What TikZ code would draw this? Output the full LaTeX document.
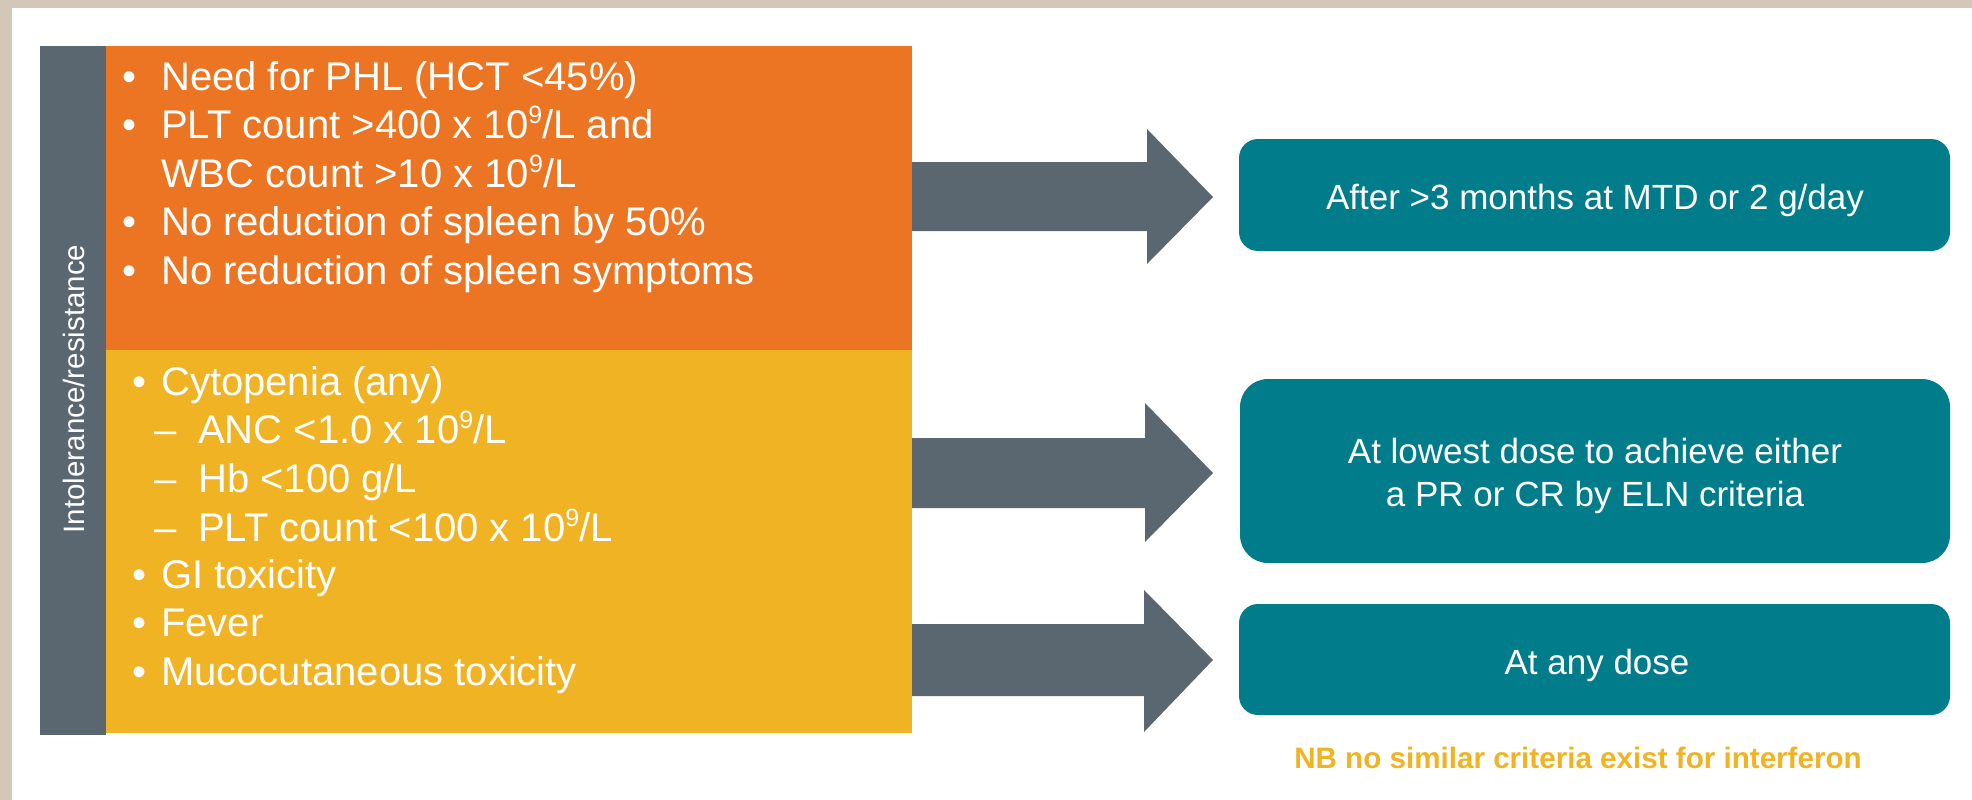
\documentclass[tikz,border=0pt]{standalone}
\usepackage{fontspec}
\setmainfont{Liberation Sans}
\definecolor{frame}{HTML}{D3C7B8}
\definecolor{orng}{HTML}{EC7524}
\definecolor{yel}{HTML}{F0B323}
\definecolor{slate}{HTML}{5B6770}
\definecolor{tealbox}{HTML}{007C8A}
\newcommand{\tenexp}{10\raisebox{0.36em}{\fontsize{25}{25}\selectfont 9}}
\tikzset{
  listline/.style={anchor=base west, inner sep=0pt, text=white, font=\fontsize{40}{48}\selectfont},
  resbox/.style={fill=tealbox, rounded corners=#1},
  restext/.style={inner sep=0pt, text=white, font=\fontsize{35}{43}\selectfont, align=center},
  blockarrow/.style={fill=slate},
}
\begin{document}
\begin{tikzpicture}[x=1pt,y=-1pt]
\useasboundingbox (0,0) rectangle (1972,800);
% frame
\fill[frame] (0,0) rectangle (1972,8);
\fill[frame] (0,0) rectangle (12,800);
% left panel
\fill[slate] (40,46) rectangle (106,735);
\fill[orng] (106,46) rectangle (912,350);
\fill[yel] (106,350) rectangle (912,733);
\node[rotate=90, inner sep=0pt, text=white, font=\fontsize{29.5}{34}\selectfont] (side) at (74,389) {Intolerance/resistance};
% orange list
\node[listline] (o1) at (122,90) {\makebox[39pt][l]{•}Need for PHL (HCT <45\%)};
\node[listline] (o2) at (122,138) {\makebox[39pt][l]{•}PLT count >400 x \tenexp/L and};
\node[listline] (o3) at (161,187) {WBC count >10 x \tenexp/L};
\node[listline] (o4) at (122,235) {\makebox[39pt][l]{•}No reduction of spleen by 50\%};
\node[listline] (o5) at (122,284) {\makebox[39pt][l]{•}No reduction of spleen symptoms};
% yellow list
\node[listline] (y1) at (132,395) {\makebox[29pt][l]{•}Cytopenia (any)};
\node[listline] (y2) at (154,443) {\makebox[44pt][l]{–}ANC <1.0 x \tenexp/L};
\node[listline] (y3) at (154,492) {\makebox[44pt][l]{–}Hb <100 g/L};
\node[listline] (y4) at (154,541) {\makebox[44pt][l]{–}PLT count <100 x \tenexp/L};
\node[listline] (y5) at (132,588) {\makebox[29pt][l]{•}GI toxicity};
\node[listline] (y6) at (132,636) {\makebox[29pt][l]{•}Fever};
\node[listline] (y7) at (132,685) {\makebox[29pt][l]{•}Mucocutaneous toxicity};
% result boxes
\fill[resbox=19pt] (1239,139) rectangle (1950,251);
\fill[resbox=28pt] (1240,379) rectangle (1950,563);
\fill[resbox=19pt] (1239,604) rectangle (1950,715);
\node[restext, anchor=base] (r1) at (1595,209) {After >3 months at MTD or 2 g/day};
\node[restext, anchor=base] (r2a) at (1595,463) {At lowest dose to achieve either};
\node[restext, anchor=base] (r2b) at (1595,506) {a PR or CR by ELN criteria};
\node[restext, anchor=base] (r3) at (1597,674) {At any dose};
\node[anchor=base, inner sep=0pt, text=yel, font=\fontsize{29.6}{34}\selectfont\bfseries] (nb) at (1578,768) {NB no similar criteria exist for interferon};
% block arrows
\fill[blockarrow] (912,162) -- (1147,162) -- (1147,129) -- (1213,197) -- (1147,264) -- (1147,231) -- (912,231) -- cycle;
\fill[blockarrow] (912,438) -- (1145,438) -- (1145,403) -- (1213,473) -- (1145,542) -- (1145,508) -- (912,508) -- cycle;
\fill[blockarrow] (912,624) -- (1144,624) -- (1144,590) -- (1213,660) -- (1144,732) -- (1144,696) -- (912,696) -- cycle;
\end{tikzpicture}
\end{document}
